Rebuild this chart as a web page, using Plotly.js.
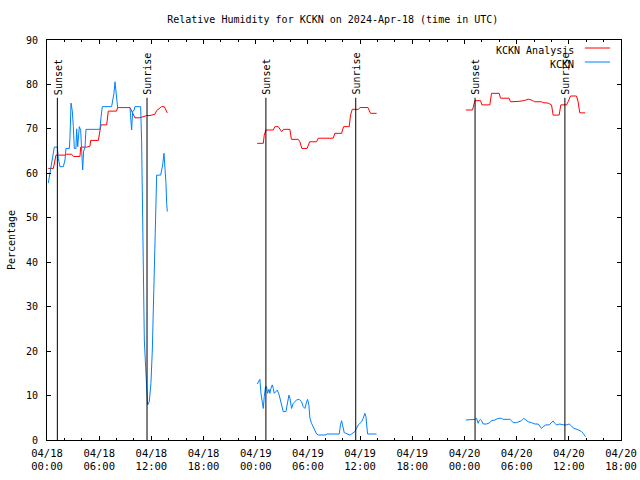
<!DOCTYPE html>
<html>
<head>
<meta charset="utf-8">
<script src="https://cdn.plot.ly/plotly-3.0.1.min.js"></script>
<style>html,body{margin:0;padding:0;background:#fff;}#chart{width:640px;height:480px;}</style>
</head>
<body>
<div id="chart"></div>
<script>
// Hours since 2024-04-18 00:00 UTC; null separates data gaps
const analysisHours = [
  0.15,0.73,1.03,2.07,2.26,2.84,3.03,3.79,3.87,4.56,4.94,5.02,5.9,6.09,6.21,6.86,7.05,8.0,8.12,9.54,9.73,10.11,10.69,10.88,11.46,11.84,12.41,12.6,13.18,13.49,13.83,
  null,
  24.17,24.87,24.98,25.17,26.02,26.2,26.59,26.97,27.2,27.93,28.1,28.89,29.08,29.3,29.9,30.2,31.0,31.19,32.91,33.1,33.87,34.1,34.75,34.9,35.1,35.79,36.0,36.9,37.2,37.9,
  null,
  48.16,48.93,49.2,49.85,50.0,50.92,51.11,51.99,52.15,53.14,53.29,54.06,54.29,54.94,55.33,55.82,56.09,56.86,57.05,57.62,58.01,58.2,58.89,59.08,59.73,59.92,60.19,60.88,61.07,61.26,61.88
];
const analysisRH = [
  61.1,61.1,64.1,64.1,64.3,64.3,63.8,63.8,65.9,65.9,66.1,67.4,67.4,69.9,70.9,70.9,74,74,74.8,74.8,74,72.5,72.5,72.6,73,73,73.3,74.1,75,75,73.6,
  null,
  66.75,66.75,68.6,69.75,69.75,70.5,70.5,69.4,69.9,69.9,67.65,67.65,67.1,65.6,65.6,67.1,67.1,67.9,67.9,69,69,70.5,70.5,73.1,74.4,74.4,74.8,74.8,73.5,73.5,
  null,
  74.25,74.25,76.35,76.35,75.4,75.4,78,78,76.9,76.9,76.1,76.1,76.2,76.4,76.7,76.4,76.1,76.1,75.9,75.8,75.4,73.1,73.1,75.4,75.4,76.1,77.4,77.4,76.1,73.6,73.6
];

const obsHours = [
  0.15,0.34,0.54,0.73,0.84,1.19,1.3,1.49,1.88,2.07,2.18,2.57,2.64,2.76,2.91,3.03,3.14,3.33,3.41,3.53,3.72,3.87,3.98,4.1,4.21,4.37,4.48,6.09,6.21,6.36,7.43,7.55,7.7,7.82,7.93,8.0,8.12,9.54,9.62,9.73,9.85,10.0,10.11,10.77,
  10.88,10.96,11.07,11.19,11.34,11.46,11.57,11.76,11.95,12.11,12.22,12.34,12.49,12.61,13.07,13.18,13.3,13.45,13.56,13.68,13.76,13.83,
  null,
  24.18,24.37,24.48,24.6,24.75,24.87,24.98,25.13,25.25,25.36,25.52,25.63,25.75,25.9,26.02,26.13,26.32,26.48,26.7,26.86,27.05,27.16,27.47,27.62,27.82,27.93,28.12,28.31,28.7,29.0,29.27,29.46,29.66,29.85,29.96,30.11,30.23,30.42,30.61,30.8,31.0,31.19,32.07,32.15,33.6,33.75,33.87,33.98,34.18,34.37,34.52,34.83,35.02,35.4,35.59,35.79,35.98,36.17,36.36,36.55,36.67,36.74,36.86,37.89,
  null,
  48.16,49.0,49.2,49.39,49.58,49.69,49.85,49.96,50.15,50.54,50.92,51.11,51.49,51.88,52.26,52.45,53.22,53.41,53.6,53.98,54.18,54.56,54.83,55.06,55.33,55.71,56.09,56.48,56.67,56.86,57.05,57.36,57.74,58.01,58.2,58.39,58.58,58.97,59.35,59.73,60.04,60.31,60.57,60.96,61.26,61.46,61.65,61.84,61.92
];
const obsRH = [
  57.8,60,62.2,64.1,65.9,65.9,63.4,61.5,61.5,63,65.6,65.6,67.9,75.8,74,70.5,65.6,65.6,70,66,70.5,69.7,63.7,60.75,65,65.8,69.9,69.9,72.6,75,75,76.1,78,80.6,78.5,76.1,74.8,74.8,72.4,69.75,74,74.1,75,75,
  67.1,52.1,33.4,22.5,16.5,10.9,7.9,8.6,12.75,20.25,30,42,55.1,59.6,59.6,60.7,61.9,64.5,61.9,57.75,53.25,51.4,
  null,
  12.6,13.1,13.65,10.5,8.25,7.1,9.75,12.0,12.0,10.5,11.4,10.5,11.6,12.4,11.6,10.5,10.9,11.25,10.1,8.6,6.75,6.4,6.4,8.25,10.1,9.4,7.1,8.25,9.0,9.15,8.6,7.5,7.1,8.6,9.15,7.9,4.9,3.75,3.0,1.9,1.35,1.125,1.125,1.35,1.35,3.4,4.35,3.4,1.65,1.5,1.35,1.1,1.35,1.9,2.6,3.4,3.75,4.1,4.9,6.0,5.25,3.4,1.35,1.35,
  null,
  4.5,4.5,4.65,4.875,3.75,4.35,4.65,4.35,3.6,3.6,3.9,4.35,4.5,4.875,4.875,4.65,4.65,4.35,3.9,3.9,4.1,4.35,4.875,4.5,4.1,3.9,3.6,3.6,3.0,2.6,3.0,3.4,3.4,3.9,4.28,3.75,3.4,3.6,3.4,3.4,3.6,3.15,2.6,2.4,2.1,1.9,1.5,0.97,0.75
];

const sunsetHours = [1.19, 25.17, 49.22];
const sunriseHours = [11.5, 35.5, 59.55];
const markerTop = 77;

const tickHours = [0,6,12,18,24,30,36,42,48,54,60,66];
const tickLabels = ["04/18<br>00:00","04/18<br>06:00","04/18<br>12:00","04/18<br>18:00",
                    "04/19<br>00:00","04/19<br>06:00","04/19<br>12:00","04/19<br>18:00",
                    "04/20<br>00:00","04/20<br>06:00","04/20<br>12:00","04/20<br>18:00"];

const FONT = "DejaVu Sans Mono, Liberation Mono, monospace";
const RED = "#ff0000", BLUE = "#0080ff";

const traces = [
  {x: analysisHours, y: analysisRH, type: "scatter", mode: "lines", name: "KCKN Analysis",
   line: {color: RED, width: 1}, connectgaps: false, hoverinfo: "skip"},
  {x: obsHours, y: obsRH, type: "scatter", mode: "lines", name: "KCKN",
   line: {color: BLUE, width: 1}, connectgaps: false, hoverinfo: "skip"}
];

const shapes = [];
const annotations = [];
function addMarker(h, label) {
  shapes.push({type: "line", xref: "x", yref: "y", x0: h, x1: h, y0: 0, y1: markerTop,
               line: {color: "black", width: 1}});
  annotations.push({xref: "x", yref: "y", x: h, y: markerTop, text: label, textangle: -90,
                    showarrow: false, xanchor: "center", yanchor: "bottom", yshift: 1, xshift: 1,
                    font: {family: FONT, size: 10, color: "black"}});
}
sunsetHours.forEach(h => addMarker(h, "Sunset"));
sunriseHours.forEach(h => addMarker(h, "Sunrise"));

// gnuplot-style key: text right-aligned, line sample to the right
annotations.push({xref: "paper", yref: "paper", x: 0.922, y: 0.975, text: "KCKN Analysis",
  showarrow: false, xanchor: "right", yanchor: "middle", font: {family: FONT, size: 10, color: "black"}});
annotations.push({xref: "paper", yref: "paper", x: 0.922, y: 0.94, text: "KCKN",
  showarrow: false, xanchor: "right", yanchor: "middle", font: {family: FONT, size: 10, color: "black"}});
shapes.push({type: "line", xref: "paper", yref: "paper", x0: 0.937, x1: 0.981, y0: 0.98, y1: 0.98,
             line: {color: RED, width: 1}});
shapes.push({type: "line", xref: "paper", yref: "paper", x0: 0.937, x1: 0.981, y0: 0.945, y1: 0.945,
             line: {color: BLUE, width: 1}});

const axisCommon = {
  showgrid: false, zeroline: false, showline: true, linecolor: "black", linewidth: 1,
  mirror: "allticks", ticks: "inside", ticklen: 4, tickcolor: "black", tickwidth: 1,
  tickfont: {family: FONT, size: 10, color: "black"}
};

const layout = {
  width: 640, height: 480,
  margin: {l: 47, r: 19, t: 40, b: 40, pad: 0},
  paper_bgcolor: "white", plot_bgcolor: "white",
  showlegend: false,
  title: {text: "Relative Humidity for KCKN on 2024-Apr-18 (time in UTC)",
          font: {family: FONT, size: 10, color: "black"},
          x: 0.52, xanchor: "center", y: 0.96, yanchor: "middle"},
  xaxis: Object.assign({}, axisCommon, {
    range: [0, 66], tickmode: "array", tickvals: tickHours, ticktext: tickLabels,
    ticklabelstandoff: 3,
    tickfont: {family: FONT, size: 10.5, color: "black"},
    minor: {ticks: "inside", tick0: 0, dtick: 2, ticklen: 2, tickcolor: "black", showgrid: false}
  }),
  yaxis: Object.assign({}, axisCommon, {
    range: [0, 90], tick0: 0, dtick: 10, ticklabelstandoff: 6,
    title: {text: "Percentage", font: {family: FONT, size: 10, color: "black"}, standoff: 8}
  }),
  shapes: shapes,
  annotations: annotations
};

Plotly.newPlot("chart", traces, layout, {staticPlot: true, displayModeBar: false});
</script>
</body>
</html>
